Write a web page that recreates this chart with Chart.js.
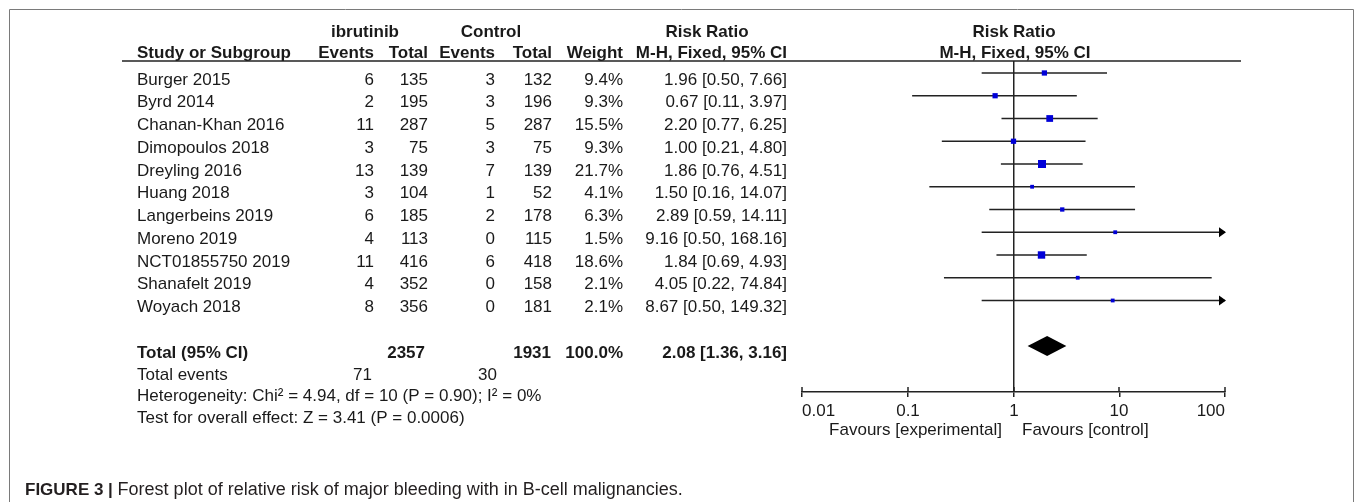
<!DOCTYPE html>
<html>
<head>
<meta charset="utf-8">
<script src="https://cdn.jsdelivr.net/npm/chart.js@4.4.1/dist/chart.umd.min.js"></script>
<style>
  html, body { margin: 0; padding: 0; background: #fff; }
  canvas { display: block; }
</style>
</head>
<body>
<canvas id="forest" width="1355" height="502"></canvas>
<script>
// study data
const studies = ["Burger 2015", "Byrd 2014", "Chanan-Khan 2016", "Dimopoulos 2018", "Dreyling 2016",
  "Huang 2018", "Langerbeins 2019", "Moreno 2019", "NCT01855750 2019", "Shanafelt 2019", "Woyach 2018"];
const expEvents = [6, 2, 11, 3, 13, 3, 6, 4, 11, 4, 8];
const expTotal = [135, 195, 287, 75, 139, 104, 185, 113, 416, 352, 356];
const ctrlEvents = [3, 3, 5, 3, 7, 1, 2, 0, 6, 0, 0];
const ctrlTotal = [132, 196, 287, 75, 139, 52, 178, 115, 418, 158, 181];
const weights = [9.4, 9.3, 15.5, 9.3, 21.7, 4.1, 6.3, 1.5, 18.6, 2.1, 2.1];
const riskRatio = [1.96, 0.67, 2.20, 1.00, 1.86, 1.50, 2.89, 9.16, 1.84, 4.05, 8.67];
const ciLow = [0.50, 0.11, 0.77, 0.21, 0.76, 0.16, 0.59, 0.50, 0.69, 0.22, 0.50];
const ciHigh = [7.66, 3.97, 6.25, 4.80, 4.51, 14.07, 14.11, 168.16, 4.93, 74.84, 149.32];

const totalRR = 2.08;
const totalLow = 1.36;
const totalHigh = 3.16;
const totalExp = 2357;
const totalCtrl = 1931;
const totalWeight = 100.0;
const totalExpEvents = 71;
const totalCtrlEvents = 30;

const xTicks = [0.01, 0.1, 1, 10, 100];
const xTickLabels = ["0.01", "0.1", "1", "10", "100"];

const FONT = '"Liberation Sans", Arial, sans-serif';
const INK = '#1a1a1a';
const totalRow = 12;

function fmt(v) { return v.toFixed(2); }

// one line dataset per confidence interval
const ciSets = studies.map((s, i) => ({
  type: 'scatter',
  label: s,
  data: [{ x: ciLow[i], y: i }, { x: ciHigh[i], y: i }],
  showLine: true,
  borderColor: '#222',
  borderWidth: 1.5,
  pointRadius: 0,
  order: 1,
}));

// squares sit on top of the lines
const squareSet = {
  type: 'scatter',
  label: 'RR',
  data: riskRatio.map((v, i) => ({ x: v, y: i })),
  pointStyle: 'rect',
  backgroundColor: '#0000d8',
  borderColor: '#0000d8',
  borderWidth: 0,
  order: 0,
  pointRadius: ctx => {
    const w = weights[ctx.dataIndex];
    const side = Math.max(3.8, 1.72 * Math.sqrt(w));
    return side / Math.SQRT2;
  },
};

const tablePlugin = {
  id: 'forestTable',
  beforeDraw(chart) {
    const ctx = chart.ctx;
    ctx.save();
    ctx.strokeStyle = '#7a7a7a';
    ctx.lineWidth = 1;
    ctx.beginPath();
    ctx.moveTo(9.5, 502);
    ctx.lineTo(9.5, 9.5);
    ctx.lineTo(1353.5, 9.5);
    ctx.lineTo(1353.5, 502);
    ctx.stroke();
    ctx.restore();
  },
  afterDraw(chart) {
    const ctx = chart.ctx;
    const x = chart.scales.x;
    const y = chart.scales.y;
    const area = chart.chartArea;
    const rowY = i => y.getPixelForValue(i) + 7;

    ctx.save();
    ctx.fillStyle = INK;
    ctx.textBaseline = 'middle';

    // header
    ctx.font = 'bold 17px ' + FONT;
    ctx.textAlign = 'center';
    ctx.fillText('ibrutinib', 365, 32);
    ctx.fillText('Control', 491, 32);
    ctx.fillText('Risk Ratio', 707, 32);
    ctx.fillText('Risk Ratio', 1014, 32);
    ctx.fillText('M-H, Fixed, 95% CI', 1015, 53);
    ctx.textAlign = 'left';
    ctx.fillText('Study or Subgroup', 137, 53);
    ctx.textAlign = 'right';
    ctx.fillText('Events', 374, 53);
    ctx.fillText('Total', 428, 53);
    ctx.fillText('Events', 495, 53);
    ctx.fillText('Total', 552, 53);
    ctx.fillText('Weight', 623, 53);
    ctx.fillText('M-H, Fixed, 95% CI', 787, 53);

    ctx.strokeStyle = '#222';
    ctx.lineWidth = 1.5;
    ctx.beginPath();
    ctx.moveTo(122, area.top);
    ctx.lineTo(1241, area.top);
    ctx.stroke();

    // study rows
    ctx.font = '17px ' + FONT;
    studies.forEach((s, i) => {
      const ty = rowY(i);
      ctx.textAlign = 'left';
      ctx.fillText(s, 137, ty);
      ctx.textAlign = 'right';
      ctx.fillText(String(expEvents[i]), 374, ty);
      ctx.fillText(String(expTotal[i]), 428, ty);
      ctx.fillText(String(ctrlEvents[i]), 495, ty);
      ctx.fillText(String(ctrlTotal[i]), 552, ty);
      ctx.fillText(weights[i].toFixed(1) + '%', 623, ty);
      ctx.fillText(fmt(riskRatio[i]) + ' [' + fmt(ciLow[i]) + ', ' + fmt(ciHigh[i]) + ']', 787, ty);
    });

    // total row
    const tY = rowY(totalRow);
    ctx.font = 'bold 17px ' + FONT;
    ctx.textAlign = 'left';
    ctx.fillText('Total (95% CI)', 137, tY);
    ctx.textAlign = 'right';
    ctx.fillText(String(totalExp), 425, tY);
    ctx.fillText(String(totalCtrl), 551, tY);
    ctx.fillText(totalWeight.toFixed(1) + '%', 623, tY);
    ctx.fillText(fmt(totalRR) + ' [' + fmt(totalLow) + ', ' + fmt(totalHigh) + ']', 787, tY);

    ctx.font = '17px ' + FONT;
    const eY = rowY(12.96);
    ctx.textAlign = 'left';
    ctx.fillText('Total events', 137, eY);
    ctx.textAlign = 'right';
    ctx.fillText(String(totalExpEvents), 372, eY);
    ctx.fillText(String(totalCtrlEvents), 497, eY);
    ctx.textAlign = 'left';
    ctx.fillText('Heterogeneity: Chi\u00b2 = 4.94, df = 10 (P = 0.90); I\u00b2 = 0%', 137, rowY(13.92));
    ctx.fillText('Test for overall effect: Z = 3.41 (P = 0.0006)', 137, rowY(14.88));

    // diamond for pooled estimate
    const dy = y.getPixelForValue(totalRow);
    const dh = 10;
    ctx.fillStyle = '#000';
    ctx.beginPath();
    ctx.moveTo(x.getPixelForValue(totalLow), dy);
    ctx.lineTo(x.getPixelForValue(totalRR), dy - dh);
    ctx.lineTo(x.getPixelForValue(totalHigh), dy);
    ctx.lineTo(x.getPixelForValue(totalRR), dy + dh);
    ctx.closePath();
    ctx.fill();

    // arrow heads for intervals past the axis end
    ciHigh.forEach((h, i) => {
      if (h > x.max) {
        const ay = y.getPixelForValue(i);
        const ax = area.right + 1;
        ctx.beginPath();
        ctx.moveTo(ax, ay);
        ctx.lineTo(ax - 7, ay - 5);
        ctx.lineTo(ax - 7, ay + 5);
        ctx.closePath();
        ctx.fill();
      }
    });

    // upper half of axis ticks and tick labels
    ctx.strokeStyle = '#222';
    ctx.lineWidth = 1.5;
    ctx.fillStyle = INK;
    ctx.font = '17px ' + FONT;
    x.ticks.forEach((t, k) => {
      const px = Math.round(x.getPixelForValue(t.value));
      ctx.beginPath();
      ctx.moveTo(px, area.bottom - 5);
      ctx.lineTo(px, area.bottom);
      ctx.stroke();
      ctx.textAlign = k === 0 ? 'left' : (k === x.ticks.length - 1 ? 'right' : 'center');
      ctx.fillText(xTickLabels[k], px, 411);
    });

    ctx.textAlign = 'right';
    ctx.fillText('Favours [experimental]', 1002, 430);
    ctx.textAlign = 'left';
    ctx.fillText('Favours [control]', 1022, 430);

    // caption
    ctx.fillStyle = '#231f20';
    ctx.font = 'bold 17px ' + FONT;
    const cap = 'FIGURE 3 | ';
    ctx.fillText(cap, 25, 490);
    const cw = ctx.measureText(cap).width;
    ctx.font = '18px ' + FONT;
    ctx.fillText('Forest plot of relative risk of major bleeding with in B-cell malignancies.', 25 + cw, 490);
    ctx.restore();
  }
};

new Chart(document.getElementById('forest'), {
  type: 'scatter',
  data: { datasets: [...ciSets, squareSet] },
  options: {
    responsive: false,
    animation: false,
    devicePixelRatio: 1,
    layout: { padding: { left: 802, right: 130, top: 61, bottom: 100 } },
    plugins: { legend: { display: false }, tooltip: { enabled: false } },
    scales: {
      x: {
        type: 'logarithmic',
        min: 0.01,
        max: 100,
        afterBuildTicks: scale => { scale.ticks = xTicks.map(v => ({ value: v })); },
        afterFit: scale => { scale.height = 10; },
        ticks: { display: false },
        grid: {
          drawOnChartArea: true,
          color: ctx => (ctx.tick && ctx.tick.value === 1 ? '#222' : 'rgba(0,0,0,0)'),
          lineWidth: 1.5,
          tickColor: '#222',
          tickLength: 5,
        },
        border: { display: true, color: '#222', width: 1.5 },
      },
      y: {
        type: 'linear',
        display: false,
        reverse: true,
        min: -0.527,
        max: 14.022,
      }
    }
  },
  plugins: [tablePlugin]
});
</script>
</body>
</html>
